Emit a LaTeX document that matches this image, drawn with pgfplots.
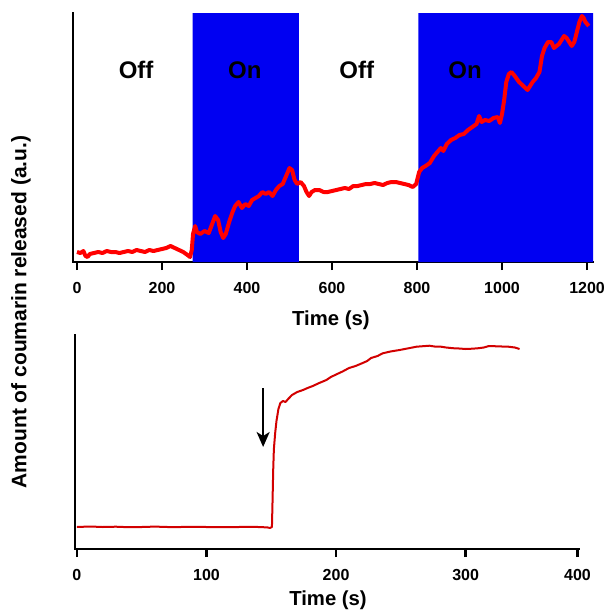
\documentclass[border=0pt]{standalone}
\usepackage{fontspec}
\setmainfont{Liberation Sans}
\usepackage{pgfplots}
\pgfplotsset{compat=1.18}
\usetikzlibrary{arrows.meta}

\definecolor{onblue}{RGB}{0,0,242}
\definecolor{tracered}{RGB}{255,0,0}
\definecolor{darkred}{RGB}{210,0,0}

\pgfplotsset{
  panel/.style={
    scale only axis,
    axis x line=bottom, axis y line=left,
    axis line style={-, line width=2.5pt, line cap=rect},
    ytick=\empty,
    tick align=outside,
    major tick length=8pt,
    tick style={black, line width=2.5pt},
    /pgf/number format/assume math mode=true,
    /pgf/number format/1000 sep={},
    ticklabel style={font=\fontsize{16}{19}\selectfont\bfseries},
    xticklabel style={yshift=-9pt},
    xlabel style={font=\fontsize{20.3}{24}\selectfont\bfseries, anchor=center},
    clip=false,
  }
}

% top panel: light off/on cycles
\pgfplotstableread{
x y
0 10
8 9
15 11
20 6
25 5
30 8
40 9
50 10
60 9
70 11
80 10
90 10
100 9
110 10
120 11
130 10
140 12
150 11
160 10
170 12
180 11
190 12
200 13
210 14
220 16
230 14
240 12
250 10
260 7
266 5
270 12
273 28
278 36
282 30
290 28
300 31
310 29
318 38
325 46
332 42
338 30
344 24
350 28
358 40
366 50
372 56
380 60
388 54
396 58
404 56
412 62
420 64
428 66
436 70
444 68
452 70
460 66
468 72
476 76
484 78
492 86
500 94
506 92
512 82
518 78
526 80
534 76
540 70
546 66
552 70
560 72
570 72
580 70
590 70
600 71
610 72
620 73
630 74
640 73
650 76
660 76
670 77
680 78
690 78
700 79
710 78
720 77
730 79
740 80
750 80
760 79
770 78
780 77
790 75
798 78
805 90
812 94
820 96
830 99
840 106
848 110
856 114
862 111
870 118
880 122
890 124
900 127
910 128
920 132
930 135
940 138
946 146
952 140
960 142
970 141
980 144
990 145
995 139
1000 148
1005 162
1010 180
1016 188
1022 190
1030 186
1040 180
1050 176
1060 172
1066 176
1072 180
1080 184
1088 190
1094 206
1100 214
1108 220
1116 220
1122 214
1128 216
1134 218
1140 222
1146 226
1152 224
1158 220
1164 216
1170 220
1176 230
1182 240
1188 246
1192 244
1196 240
1200 238
1204 236
}\toptrace

% bottom panel: single release step
\pgfplotstableread{
x y
0 22
10 22.5
20 22
30 22.3
40 21.8
50 22
60 22.4
70 22
80 22
90 22.2
100 22
110 22
120 21.8
130 22.2
140 22
147 21.6
149 21
150.5 22
151 50
151.5 80
152 100
153 116
154 128
155.5 140
157 146
159 148
161 147
163 150
166 154
170 157
174.5 159
178 161
182 163
187 166
192.5 169
196 172
200 174.5
205 177.5
210 181
215 183
220 185.7
224 188
227 191
232 193
236 195.7
242 197.5
249 199
255 200.5
262 202.3
267 202.8
272 203.3
276 202.5
280 202.5
285 201.5
290 200.8
295 200.5
300 200
305 200.3
310 200.8
314 201.5
318 203
322 202.8
328 202.5
333 202.3
338 201.5
341.6 200
}\bottomtrace

\begin{document}
\begin{tikzpicture}
\useasboundingbox (0,0) rectangle (605pt,-611pt);

\begin{axis}[panel,
  at={(73pt,-262pt)}, anchor=south west,
  width=520pt, height=249pt,
  xmin=-9.4, xmax=1214, ymin=0, ymax=249,
  xtick={0,200,...,1200},
  xlabel={Time (s)},
  xlabel style={at={(axis description cs:0.496,-0.233)}},
]
\addplot[fill=onblue, draw=none] coordinates {(272,0) (272,249) (522,249) (522,0)} \closedcycle;
\addplot[fill=onblue, draw=none] coordinates {(803,0) (803,249) (1214,249) (1214,0)} \closedcycle;
\addplot[tracered, line width=4pt, line join=round] table[x=x, y=y] {\toptrace};
\node[font=\fontsize{24}{28}\selectfont\bfseries] at (axis cs:139,192) {Off};
\node[font=\fontsize{24}{28}\selectfont\bfseries] at (axis cs:395,192) {On};
\node[font=\fontsize{24}{28}\selectfont\bfseries] at (axis cs:658,192) {Off};
\node[font=\fontsize{24}{28}\selectfont\bfseries] at (axis cs:913,192) {On};
\end{axis}

\begin{axis}[panel,
  at={(75pt,-549pt)}, anchor=south west,
  width=504pt, height=214pt,
  xmin=-1.5, xmax=387.5, ymin=0, ymax=214,
  xtick={0,100,200,300,386.3},
  xticklabels={0,100,200,300,400},
  xlabel={Time (s)},
  xlabel style={at={(axis description cs:0.502,-0.238)}},
]
\addplot[darkred, line width=2pt, line join=round] table[x=x, y=y] {\bottomtrace};
\draw[line width=2pt, -{Stealth[length=15pt, width=13pt, inset=4pt]}] (axis cs:143.7,161) -- (axis cs:143.7,102);
\end{axis}

\node[rotate=90, font=\fontsize{21}{25}\selectfont\bfseries] at (21pt,-312pt) {Amount of coumarin released (a.u.)};
\end{tikzpicture}
\end{document}
